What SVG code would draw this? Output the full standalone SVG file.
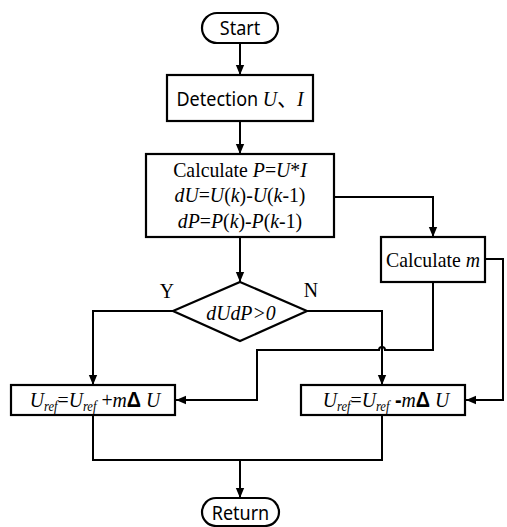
<svg xmlns="http://www.w3.org/2000/svg" width="507" height="527" viewBox="0 0 507 527">
  <defs>
    <marker id="arrow" markerWidth="10" markerHeight="12" refX="12" refY="5" orient="auto" markerUnits="userSpaceOnUse" viewBox="0 0 12 10">
      <path d="M0,0 L12,5 L0,10 Z" fill="#000"/>
    </marker>
    <style>
      .shape { fill: #fff; stroke: #000; stroke-width: 2.2; }
      .line { fill: none; stroke: #000; stroke-width: 2; }
      .sans { font-family: "Noto Sans", "DejaVu Sans", sans-serif; font-size: 20px; fill: #000; }
      .serif { font-family: "Liberation Serif", "Times New Roman", serif; font-size: 22px; fill: #000; }
      .cjk { font-family: "Noto Sans CJK SC", sans-serif; font-style: normal; }
      .it { font-style: italic; }
      .sub { font-size: 14px; font-style: italic; }
      .delta { font-family: "Liberation Sans", Arial, sans-serif; font-weight: bold; }
    </style>
  </defs>
  <rect width="507" height="527" fill="#fff"/>

  <g id="connectors">
    <path class="line" d="M240,43 V75" marker-end="url(#arrow)"/>
    <path class="line" d="M240,121 V154" marker-end="url(#arrow)"/>
    <path class="line" d="M240,237 V282" marker-end="url(#arrow)"/>
    <path class="line" d="M334,197 H433 V237" marker-end="url(#arrow)"/>
    <path class="line" d="M173,311 H93 V385" marker-end="url(#arrow)"/>
    <path class="line" d="M307,311 H382 V385" marker-end="url(#arrow)"/>
    <path class="line" d="M433,282 V350 H385 A3,3 0 0 0 379,350 H257 V400 H176" marker-end="url(#arrow)"/>
    <path class="line" d="M485,259 H503 V400 H466" marker-end="url(#arrow)"/>
    <path class="line" d="M93,415 V460 H382 V415"/>
    <path class="line" d="M240,460 V498" marker-end="url(#arrow)"/>
  </g>

  <g id="start">
    <rect class="shape" x="202" y="13" width="76" height="30" rx="15"/>
    <text class="sans" x="240" y="35" text-anchor="middle" transform="matrix(0.9 0 0 1 24 0)">Start</text>
  </g>

  <g id="detection">
    <rect class="shape" x="167" y="75" width="146" height="46"/>
    <text x="240" y="106" text-anchor="middle" transform="matrix(0.9 0 0 1 24 0)"><tspan class="sans">Detection </tspan><tspan class="serif it">U</tspan><tspan class="serif cjk">、</tspan><tspan class="serif it">I</tspan></text>
  </g>

  <g id="calculate">
    <rect class="shape" x="146" y="154" width="188" height="83"/>
    <g transform="matrix(0.9 0 0 1 24 0)">
      <text class="serif" x="240" y="177" text-anchor="middle">Calculate <tspan class="it">P</tspan>=<tspan class="it">U</tspan>*<tspan class="it">I</tspan></text>
      <text class="serif" x="240" y="202" text-anchor="middle"><tspan class="it">dU</tspan>=<tspan class="it">U</tspan>(<tspan class="it">k</tspan>)-<tspan class="it">U</tspan>(<tspan class="it">k</tspan>-1)</text>
      <text class="serif" x="240" y="228" text-anchor="middle"><tspan class="it">dP</tspan>=<tspan class="it">P</tspan>(<tspan class="it">k</tspan>)-<tspan class="it">P</tspan>(<tspan class="it">k</tspan>-1)</text>
    </g>
  </g>

  <g id="calc-m">
    <rect class="shape" x="381" y="237" width="104" height="45"/>
    <text class="serif" x="433" y="267" text-anchor="middle" transform="matrix(0.9 0 0 1 43.3 0)">Calculate <tspan class="it">m</tspan></text>
  </g>

  <g id="decision">
    <polygon class="shape" points="240,282 307,311 240,341 173,311"/>
    <text class="serif it" x="241" y="320" text-anchor="middle" transform="matrix(0.9 0 0 1 24.1 0)">dUdP&gt;0</text>
    <text class="serif" x="167" y="298" text-anchor="middle" transform="matrix(0.9 0 0 1 16.7 0)">Y</text>
    <text class="serif" x="311" y="297" text-anchor="middle" transform="matrix(0.9 0 0 1 31.1 0)">N</text>
  </g>

  <g id="increase">
    <rect class="shape" x="11" y="385" width="164" height="30"/>
    <text class="serif" x="95" y="407" text-anchor="middle" transform="matrix(0.9 0 0 1 9.5 0)"><tspan class="it">U</tspan><tspan class="sub" dy="4">ref</tspan><tspan dy="-4">=</tspan><tspan class="it">U</tspan><tspan class="sub" dy="4">ref</tspan><tspan dy="-4"> +</tspan><tspan class="it">m</tspan><tspan class="delta">Δ</tspan> <tspan class="it">U</tspan></text>
  </g>

  <g id="decrease">
    <rect class="shape" x="301" y="385" width="164" height="30"/>
    <text class="serif" x="386" y="407" text-anchor="middle" transform="matrix(0.9 0 0 1 38.6 0)"><tspan class="it">U</tspan><tspan class="sub" dy="4">ref</tspan><tspan dy="-4">=</tspan><tspan class="it">U</tspan><tspan class="sub" dy="4">ref</tspan><tspan dy="-4" class="delta"> -</tspan><tspan class="it">m</tspan><tspan class="delta">Δ</tspan> <tspan class="it">U</tspan></text>
  </g>

  <g id="return">
    <rect class="shape" x="202" y="498" width="77" height="28" rx="14"/>
    <text class="sans" x="240.5" y="520" text-anchor="middle" transform="matrix(0.9 0 0 1 24.05 0)">Return</text>
  </g>
</svg>
